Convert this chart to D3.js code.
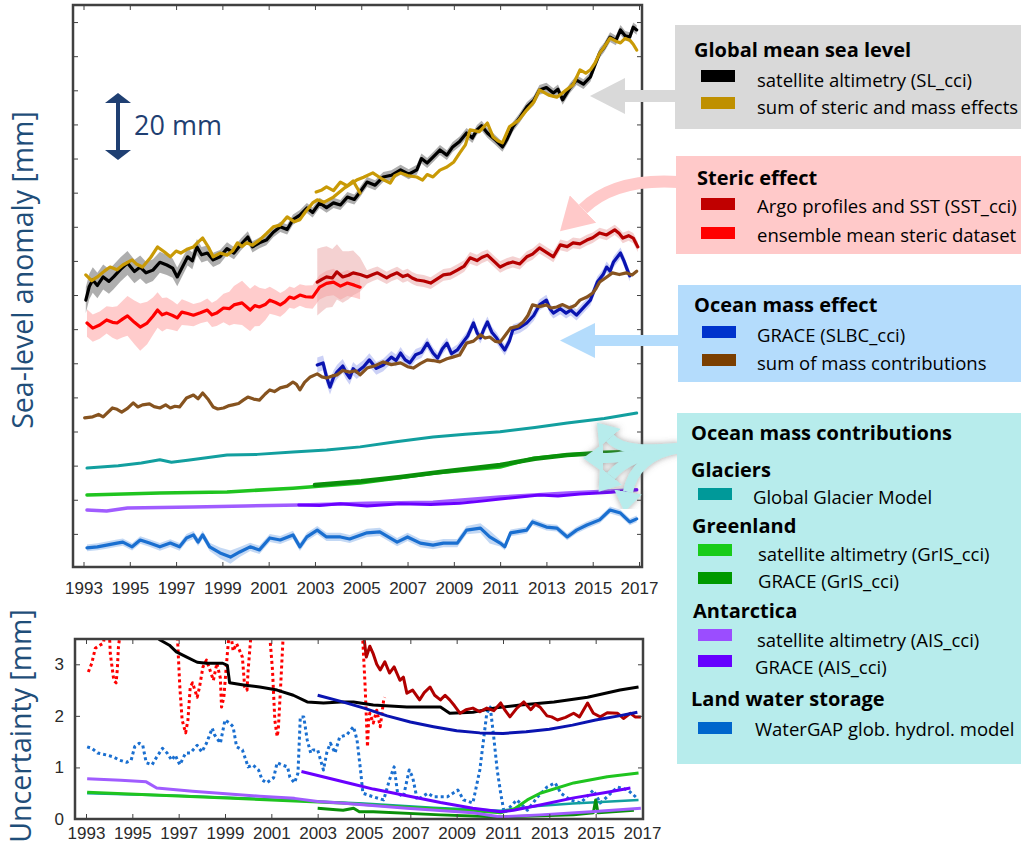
<!DOCTYPE html>
<html>
<head>
<meta charset="utf-8">
<script src="https://cdn.jsdelivr.net/npm/d3@7"></script>
<style>
  body { margin: 0; background: #fff; }
  svg text { font-family: "Open Sans", sans-serif; }
  .axis .tick text { font-family: "Liberation Sans", Arial, sans-serif; font-size: 17px; fill: #2a2a2a; }
  .axis .tick line { stroke: #404040; stroke-width: 1; }
  .axis .domain { display: none; }
</style>
</head>
<body>
<svg id="fig" width="1021" height="845"></svg>
<script>
(function() {
    'use strict';

    /******************************************************************
        data: [year, mm]  (series are offset for display, as in the figure)
     ******************************************************************/
    var yearTicks = d3.range(1993, 2018, 2);
    var uncTicks = [0, 1, 2, 3];

    var gmslAltimetry = [[1993.1,78.5],[1993.25,82.5],[1993.4,84.4],[1993.6,82.8],[1993.85,85.3],[1994.1,84.0],[1994.3,85.3],
        [1994.6,87.5],[1994.9,89.4],[1995.2,86.9],[1995.45,88.2],[1995.7,86.5],[1996.0,87.3],[1996.3,89.6],[1996.6,88.8],
        [1996.85,87.9],[1997.05,85.3],[1997.3,88.6],[1997.5,91.2],[1997.7,90.0],[1997.9,94.1],[1998.1,91.8],[1998.35,92.3],
        [1998.6,90.3],[1998.9,91.2],[1999.2,93.6],[1999.5,92.3],[1999.8,94.8],[2000.1,97.0],[2000.3,94.1],[2000.6,95.3],
        [2000.9,96.1],[2001.2,98.4],[2001.5,100.0],[2001.8,99.2],[2002.05,102.1],[2002.35,103.4],[2002.65,105.5],
        [2002.9,104.2],[2003.2,107.0],[2003.5,105.6],[2003.8,107.0],[2004.1,106.4],[2004.4,108.7],[2004.7,108.0],
        [2004.95,110.2],[2005.25,113.1],[2005.6,112.2],[2005.95,114.6],[2006.3,115.1],[2006.7,116.7],[2007.05,115.4],
        [2007.4,116.7],[2007.6,120.0],[2007.85,118.7],[2008.1,120.4],[2008.4,122.5],[2008.7,121.0],[2008.95,123.4],
        [2009.25,125.0],[2009.55,127.5],[2009.8,126.0],[2010.0,128.4],[2010.2,129.6],[2010.45,127.5],[2010.8,125.4],
        [2011.1,123.4],[2011.3,125.7],[2011.55,129.3],[2011.85,132.0],[2012.15,135.1],[2012.45,137.0],[2012.7,140.1],
        [2013.0,140.8],[2013.3,139.2],[2013.5,140.3],[2013.7,137.2],[2014.0,140.5],[2014.3,143.0],[2014.6,141.8],
        [2014.9,143.9],[2015.1,147.5],[2015.3,150.9],[2015.5,152.6],[2015.75,155.6],[2016.0,154.6],[2016.2,157.7],
        [2016.4,156.0],[2016.6,155.6],[2016.75,158.5],[2016.9,157.7]];
    var gmslAltimetryBand = [[1993,3.8],[1995,3.5],[1996.5,3.0],[1998,2.3],[1999.5,1.8],[2001,1.5],[2017,1.4]];

    var gmslSum = [[1993.1,85.9],[1993.35,84.2],[1993.6,85.3],[1993.9,87.0],[1994.15,88.2],[1994.45,87.4],[1994.7,88.8],
        [1995.1,90.3],[1995.3,89.0],[1995.55,88.2],[1995.9,91.0],[1996.2,94.1],[1996.5,92.6],[1996.75,91.2],[1997.0,92.9],
        [1997.2,92.3],[1997.5,93.5],[1997.75,94.1],[1997.95,95.5],[1998.15,96.7],[1998.4,94.0],[1998.6,91.2],[1998.9,92.3],
        [1999.2,91.7],[1999.45,93.0],[1999.65,95.3],[1999.85,94.2],[2000.05,95.3],[2000.3,94.6],[2000.6,96.1],[2000.9,98.0],
        [2001.2,100.0],[2001.5,100.5],[2001.8,102.9],[2002.1,101.5],[2002.35,102.1],[2002.6,104.5],[2002.9,107.0],
        [2003.1,107.9],[2003.4,107.2],[2003.8,108.7],[2004.3,111.5],[2004.8,113.7],[2005.1,114.5],[2005.5,115.8],
        [2005.9,114.0],[2006.25,112.8],[2006.45,115.0],[2006.7,115.8],[2007.0,115.0],[2007.4,114.6],[2007.65,113.7],
        [2007.85,115.3],[2008.1,114.6],[2008.4,116.6],[2008.7,117.5],[2009.0,119.0],[2009.25,121.6],[2009.5,124.0],
        [2009.7,128.4],[2010.1,127.9],[2010.45,130.4],[2010.7,126.3],[2010.9,125.2],[2011.1,124.6],[2011.4,129.3],
        [2011.8,131.2],[2012.15,134.2],[2012.45,136.5],[2012.7,140.1],[2013.1,138.6],[2013.45,138.0],[2013.65,139.0],
        [2013.85,140.1],[2014.15,141.6],[2014.45,146.0],[2014.7,145.0],[2014.9,146.0],[2015.1,148.0],[2015.3,150.9],
        [2015.5,152.7],[2015.75,155.3],[2016.0,154.4],[2016.2,153.9],[2016.4,155.2],[2016.6,154.7],[2016.75,153.5],
        [2016.9,151.8]];
    var gmslSumArgo = [[2003.05,110.2],[2003.3,110.8],[2003.5,111.7],[2003.8,110.6],[2004.1,113.1],[2004.4,112.0],
        [2004.65,113.4],[2004.95,109.9]];

    var stericEnsemble = [[1993.15,71.8],[1993.4,70.3],[1993.7,71.2],[1994.0,72.7],[1994.25,72.0],[1994.45,71.8],
        [1994.7,73.0],[1994.9,73.9],[1995.2,72.0],[1995.45,70.6],[1995.75,71.8],[1996.0,73.8],[1996.2,75.6],[1996.4,74.2],
        [1996.6,74.7],[1996.85,74.0],[1997.05,73.3],[1997.25,75.0],[1997.5,74.6],[1997.75,74.1],[1998.05,74.8],
        [1998.35,75.6],[1998.55,74.2],[1998.75,74.7],[1999.05,76.2],[1999.3,76.0],[1999.5,77.1],[1999.85,77.7],
        [2000.2,75.6],[2000.4,76.9],[2000.6,76.5],[2000.85,77.2],[2001.05,78.5],[2001.3,77.8],[2001.5,77.1],[2001.7,78.0],
        [2001.9,79.4],[2002.1,79.0],[2002.35,80.0],[2002.6,79.5],[2002.9,79.4],[2003.2,82.3],[2003.5,83.4],[2003.8,83.8],
        [2004.1,82.6],[2004.4,83.5],[2004.7,82.9],[2004.95,82.3]];
    var stericEnsembleBand = [[1993,4],[1994,4],[1995,6],[1995.5,7],[1996,5.5],[1997,4],[1998,3],[1999,4],
        [1999.8,6.5],[2000.5,6],[2001,4],[2002,3],[2003,3.5],[2004,4],[2005,3.5]];

    var stericArgo = [[2003.1,83.8],[2003.3,84.6],[2003.5,85.3],[2003.75,85.0],[2003.95,86.8],[2004.2,85.3],
        [2004.45,85.8],[2004.65,86.5],[2004.95,86.0],[2005.25,85.3],[2005.5,86.0],[2005.7,86.5],[2006.1,85.0],
        [2006.3,85.8],[2006.55,86.5],[2006.8,85.4],[2007.0,85.9],[2007.2,85.0],[2007.4,84.4],[2007.7,84.1],[2008.0,83.5],
        [2008.3,84.8],[2008.55,85.9],[2008.85,86.2],[2009.15,87.3],[2009.45,88.5],[2009.7,90.9],[2010.0,90.1],
        [2010.2,91.0],[2010.45,91.7],[2010.75,89.8],[2011.0,88.2],[2011.3,89.2],[2011.55,89.7],[2011.85,89.1],
        [2012.15,91.2],[2012.4,92.0],[2012.7,93.8],[2013.0,92.5],[2013.3,91.2],[2013.6,94.7],[2013.9,94.2],
        [2014.15,95.3],[2014.45,95.0],[2014.75,96.1],[2015.0,96.8],[2015.3,98.2],[2015.6,97.6],[2015.95,99.1],
        [2016.15,98.0],[2016.3,96.7],[2016.55,97.4],[2016.75,96.7],[2016.95,94.1]];
    var stericArgoBand = [[2003,10],[2004,8],[2004.9,6],[2005.1,2],[2006,1.8],[2017,1.5]];

    var massGrace = [[2003.1,59.5],[2003.35,60.1],[2003.5,56.0],[2003.65,53.0],[2003.8,55.8],[2003.95,57.4],
        [2004.2,59.2],[2004.35,57.2],[2004.5,55.7],[2004.65,58.4],[2004.8,57.4],[2005.1,59.0],[2005.35,61.0],
        [2005.65,58.5],[2005.95,59.5],[2006.3,61.8],[2006.5,60.8],[2006.7,63.0],[2006.9,61.0],[2007.1,60.1],
        [2007.35,62.5],[2007.6,63.2],[2007.85,65.9],[2008.1,63.0],[2008.3,61.5],[2008.5,64.2],[2008.7,65.9],
        [2008.9,62.8],[2009.15,63.9],[2009.4,66.2],[2009.6,68.0],[2009.85,71.8],[2010.0,69.0],[2010.15,67.4],
        [2010.3,70.0],[2010.45,72.1],[2010.65,69.0],[2010.85,67.4],[2011.0,65.8],[2011.2,63.9],[2011.4,66.5],
        [2011.55,69.8],[2011.85,70.5],[2012.15,71.8],[2012.45,74.0],[2012.7,77.1],[2013.0,78.5],[2013.15,76.0],
        [2013.3,74.7],[2013.6,76.0],[2013.85,74.7],[2014.05,75.6],[2014.3,74.1],[2014.6,76.3],[2014.9,78.5],
        [2015.2,83.8],[2015.45,86.0],[2015.6,88.2],[2015.75,87.0],[2015.9,89.7],[2016.05,91.0],[2016.2,92.3],
        [2016.35,90.0],[2016.5,87.3],[2016.6,85.6]];
    var massGraceBand = [[2003,2.2],[2008,1.6],[2017,1.6]];

    var massSum = [[1993.05,44.0],[1993.4,44.3],[1993.65,45.0],[1993.85,44.3],[1994.25,46.9],[1994.45,46.5],
        [1994.65,45.7],[1994.9,46.8],[1995.15,48.4],[1995.35,47.2],[1995.55,47.8],[1995.85,48.1],[1996.05,47.3],
        [1996.3,46.9],[1996.55,47.8],[1996.75,46.9],[1996.95,47.4],[1997.15,47.2],[1997.45,49.8],[1997.75,50.7],
        [1997.95,49.6],[1998.15,51.3],[1998.4,49.3],[1998.6,47.2],[1998.8,46.6],[1999.05,46.9],[1999.25,47.5],
        [1999.45,47.8],[1999.7,48.2],[1999.9,49.2],[2000.1,50.1],[2000.35,49.5],[2000.6,49.2],[2000.85,51.0],
        [2001.05,52.2],[2001.25,51.7],[2001.5,52.8],[2001.8,53.3],[2002.05,54.5],[2002.2,53.8],[2002.35,52.2],
        [2002.55,54.4],[2002.8,56.0],[2003.1,56.9],[2003.3,56.0],[2003.5,55.7],[2003.75,56.3],[2003.95,56.6],
        [2004.2,57.9],[2004.5,57.4],[2004.75,57.8],[2004.95,56.6],[2005.25,58.6],[2005.6,59.3],[2005.95,60.4],
        [2006.3,59.6],[2006.7,60.1],[2007.0,59.0],[2007.25,58.6],[2007.55,59.9],[2007.85,61.0],[2008.1,60.8],
        [2008.4,60.4],[2008.7,61.3],[2008.95,61.8],[2009.25,62.4],[2009.55,65.9],[2009.85,66.5],[2010.15,68.3],
        [2010.35,67.4],[2010.55,67.7],[2010.8,66.4],[2011.0,66.2],[2011.2,68.0],[2011.45,70.3],[2011.75,70.8],
        [2012.0,72.1],[2012.2,74.0],[2012.4,77.1],[2012.7,76.6],[2013.0,77.1],[2013.2,76.2],[2013.45,76.5],
        [2013.7,77.2],[2014.0,76.2],[2014.25,77.0],[2014.45,78.5],[2014.75,79.4],[2015.0,80.6],[2015.15,82.0],
        [2015.3,83.8],[2015.55,85.0],[2015.85,86.5],[2016.15,86.0],[2016.45,86.5],[2016.7,85.9],[2016.9,87.0]];

    var glaciers = [[1993.15,29.3],[1994.5,30.0],[1995.5,30.8],[1996.3,31.7],[1996.8,31.0],[1997.5,31.6],
        [1999.2,33.1],[2000.5,33.3],[2002.05,34.0],[2003.5,34.6],[2004.95,35.5],[2006.5,37.0],[2008.1,38.4],
        [2009.5,39.2],[2011.0,39.9],[2012.5,41.2],[2013.9,42.5],[2015.5,43.8],[2016.9,45.4]];

    var greenlandAlt = [[1993.15,21.4],[1996.3,22.0],[1999.2,22.3],[2002.05,23.4],[2004.95,24.9],[2006.5,26.3],
        [2008.1,27.8],[2011.0,29.6],[2012.45,32.2],[2014.0,33.2],[2015.3,33.7],[2016.9,34.0]];
    var greenlandGrace = [[2003.0,24.3],[2005.0,25.4],[2006.7,26.7],[2008.5,28.2],[2011.0,30.2],[2012.5,32.0],
        [2013.9,33.1],[2015.5,33.8],[2016.75,34.0]];

    var antarcticaAlt = [[1993.15,17.0],[1994.0,16.7],[1994.9,17.6],[1997.75,17.9],[2000.0,18.2],[2002.35,18.5],
        [2005.25,19.0],[2008.1,19.3],[2011.0,20.8],[2013.9,22.0],[2016.9,22.9]];
    var antarcticaGrace = [[2002.3,18.5],[2003.2,18.3],[2004.1,18.8],[2005.25,18.2],[2006.7,18.8],[2008.0,18.6],
        [2009.25,19.0],[2010.2,19.6],[2011.0,20.2],[2012.7,21.4],[2013.5,21.1],[2014.45,21.7],[2015.8,22.2],[2016.9,22.9]];

    var landWater = [[1993.15,5.9],[1993.6,6.2],[1994.0,6.7],[1994.45,7.3],[1994.7,7.6],[1995.1,6.2],[1995.45,8.2],
        [1995.85,7.3],[1996.3,6.2],[1996.75,7.3],[1997.15,6.2],[1997.45,8.8],[1997.75,9.7],[1997.95,7.6],[1998.15,9.7],
        [1998.45,6.2],[1998.9,4.4],[1999.35,3.2],[1999.75,4.7],[2000.2,6.2],[2000.6,5.3],[2001.05,8.8],[2001.5,8.2],
        [2002.05,9.7],[2002.35,6.2],[2002.65,9.1],[2003.1,11.1],[2003.5,9.1],[2004.1,9.1],[2004.5,8.5],[2005.25,10.3],
        [2005.8,10.6],[2006.55,7.6],[2007.0,9.1],[2007.55,7.3],[2008.1,6.7],[2008.55,7.3],[2009.15,7.3],[2009.55,11.1],
        [2010.15,11.7],[2010.55,9.1],[2011.0,7.3],[2011.2,6.2],[2011.45,10.3],[2012.15,11.1],[2012.4,13.5],[2013.0,12.0],
        [2013.45,11.7],[2013.9,9.1],[2014.3,11.1],[2014.75,12.6],[2015.3,14.1],[2015.75,17.0],[2016.2,16.1],
        [2016.6,13.5],[2016.9,14.4]];
    var landWaterBand = [[1993,1],[1998.5,1.2],[1999.3,2],[2000,1.2],[2010,1.2],[2010.5,2],[2011,1],[2017,1]];

    // uncertainties [year, mm]
    var uncGmsl = [[1993.1,4.3],[1994.5,4.0],[1995.5,3.75],[1996.2,3.47],[1996.6,3.37],[1996.9,3.24],[1997.35,3.14],
        [1997.8,3.04],[1998.2,3.02],[1998.9,3.02],[1999.1,2.98],[1999.2,2.64],[1999.8,2.6],[2000.5,2.56],[2001.25,2.5],
        [2001.95,2.4],[2002.55,2.27],[2003.25,2.25],[2004.0,2.27],[2004.55,2.27],[2005.4,2.21],[2006.85,2.17],
        [2008.3,2.17],[2008.7,2.05],[2009.7,2.07],[2010.6,2.15],[2011.75,2.21],[2013.2,2.27],[2014.65,2.36],
        [2016.05,2.5],[2016.85,2.56]];
    var uncArgo = [[2004.95,3.7],[2005.1,3.14],[2005.25,3.35],[2005.4,3.2],[2005.55,3.0],[2005.7,2.89],[2005.9,3.05],
        [2006.1,2.83],[2006.3,2.95],[2006.55,2.69],[2006.7,2.75],[2006.85,2.44],[2007.1,2.5],[2007.4,2.31],[2007.6,2.45],
        [2007.85,2.56],[2008.05,2.4],[2008.3,2.31],[2008.5,2.4],[2008.7,2.31],[2008.9,2.2],[2009.15,2.05],[2009.4,2.12],
        [2009.7,2.15],[2010.0,2.08],[2010.3,2.15],[2010.6,2.1],[2010.9,2.25],[2011.1,2.1],[2011.3,1.98],[2011.6,2.15],
        [2011.9,2.27],[2012.2,2.12],[2012.4,2.22],[2012.6,2.17],[2012.9,2.0],[2013.1,1.98],[2013.35,1.92],[2013.7,1.97],
        [2014.05,2.05],[2014.3,1.98],[2014.65,2.25],[2014.9,2.05],[2015.2,1.98],[2015.5,2.06],[2015.95,2.05],
        [2016.2,1.95],[2016.5,2.05],[2016.7,1.98],[2016.95,1.98]];
    var uncGrace = [[2003,2.4],[2004,2.28],[2005,2.15],[2006,2.0],[2007,1.88],[2008,1.79],[2009,1.71],[2010,1.67],
        [2011,1.66],[2012,1.69],[2013,1.74],[2014,1.82],[2015,1.92],[2016,2.0],[2016.8,2.07]];
    var uncSteric = [[1993.1,2.85],[1993.25,3.02],[1993.4,3.31],[1993.6,3.37],[1993.75,3.41],[1993.9,3.8],[1994.0,3.7],
        [1994.05,3.2],[1994.2,2.69],[1994.3,2.64],[1994.35,2.89],[1994.4,3.33],[1994.55,3.9],[1995.5,4.2],[1996.9,3.9],
        [1996.95,3.5],[1997.05,2.56],[1997.15,1.92],[1997.3,1.67],[1997.4,1.92],[1997.5,2.56],[1997.6,2.64],[1997.8,2.36],
        [1997.9,2.56],[1998.05,2.95],[1998.2,3.08],[1998.35,2.89],[1998.5,2.69],[1998.65,3.02],[1998.8,2.73],[1998.85,2.17],
        [1998.95,2.36],[1999.1,3.2],[1999.15,3.45],[1999.25,3.6],[1999.35,3.26],[1999.5,3.4],[1999.6,3.3],[1999.75,3.14],
        [1999.85,2.56],[1999.95,2.5],[2000.0,2.89],[2000.1,3.45],[2000.2,3.9],[2000.9,3.9],[2000.95,3.45],[2001.05,2.89],
        [2001.15,1.92],[2001.25,1.6],[2001.3,1.73],[2001.4,2.56],[2001.5,3.45],[2001.6,3.9],[2004.9,3.9],[2004.95,3.45],
        [2005.05,2.56],[2005.15,1.4],[2005.2,1.92],[2005.25,2.05],[2005.4,1.86],[2005.55,2.11],[2005.7,1.79],
        [2005.85,2.31],[2005.9,2.36]];
    var uncLandWater = [[1993.05,1.4],[1993.25,1.37],[1993.5,1.28],[1993.9,1.24],[1994.2,1.2],[1994.45,1.14],
        [1994.75,1.1],[1994.95,1.14],[1995.1,1.4],[1995.3,1.47],[1995.45,1.43],[1995.6,1.09],[1995.85,1.05],[1996.05,1.2],
        [1996.3,1.37],[1996.5,1.28],[1996.7,1.14],[1996.85,1.24],[1997.05,1.05],[1997.3,1.28],[1997.5,1.28],[1997.8,1.43],
        [1998.0,1.3],[1998.2,1.47],[1998.45,1.76],[1998.55,1.63],[1998.8,1.47],[1999.0,1.92],[1999.2,1.86],[1999.35,1.79],
        [1999.5,1.4],[1999.75,1.34],[2000.0,1.01],[2000.2,1.05],[2000.45,0.95],[2000.6,0.76],[2000.8,0.7],[2001.1,0.8],
        [2001.25,1.09],[2001.45,1.05],[2001.7,1.01],[2001.8,0.81],[2002.0,0.7],[2002.15,0.89],[2002.25,1.98],
        [2002.4,1.98],[2002.55,1.53],[2002.7,1.28],[2002.8,1.34],[2003.0,1.34],[2003.25,0.95],[2003.4,1.3],
        [2003.55,1.47],[2003.75,1.28],[2003.95,1.59],[2004.25,1.63],[2004.55,1.79],[2004.7,1.53],[2004.85,0.95],
        [2004.95,0.5],[2005.4,0.43],[2005.85,0.37],[2006.1,0.76],[2006.3,1.01],[2006.45,0.5],[2006.7,0.43],
        [2006.95,0.95],[2007.1,0.81],[2007.3,0.37],[2007.75,0.5],[2008.0,0.43],[2008.6,0.43],[2009.05,0.56],
        [2009.3,0.37],[2009.7,0.31],[2010.0,0.95],[2010.3,2.05],[2010.45,2.17],[2010.6,1.59],[2010.75,0.95],
        [2010.9,0.5],[2011.05,0.12],[2011.3,0.23],[2011.6,0.37],[2012.05,0.17],[2012.5,0.43],[2012.9,0.62],
        [2013.25,0.7],[2013.5,0.5],[2013.9,0.37],[2014.35,0.31],[2014.9,0.56],[2015.2,0.31],[2015.95,0.62],
        [2016.4,0.56],[2016.8,0.4]];
    var uncAntarcticaAlt = [[1993.05,0.78],[1994.5,0.75],[1995.6,0.72],[1996.05,0.6],[1997.6,0.54],[2000.5,0.44],
        [2002.0,0.4],[2003.0,0.34],[2004.0,0.31],[2006.85,0.21],[2009.7,0.12],[2010.9,0.04],[2012.6,0.08],
        [2014.8,0.14],[2016.95,0.21]];
    var uncAntarcticaGrace = [[2002.3,0.92],[2003.4,0.8],[2004.5,0.68],[2005.4,0.58],[2006.85,0.45],[2008.3,0.32],
        [2009.7,0.21],[2010.9,0.14],[2011.45,0.17],[2012.6,0.27],[2014.05,0.41],[2015.5,0.52],[2016.5,0.6]];
    var uncGreenlandAlt = [[1993.05,0.52],[1996.2,0.46],[2000.5,0.38],[2004.0,0.31],[2006.85,0.23],[2009.7,0.16],
        [2010.9,0.12],[2011.5,0.2],[2012.05,0.37],[2012.6,0.5],[2014.05,0.7],[2015.5,0.82],[2016.85,0.89]];
    var uncGreenlandGrace = [[2003.0,0.21],[2003.8,0.18],[2004.1,0.17],[2004.55,0.21],[2004.8,0.14],[2005.4,0.14],
        [2008.3,0.08],[2010.9,0.04],[2014.05,0.08],[2014.9,0.12],[2015.0,0.37],[2015.1,0.12],[2016.65,0.17]];
    var uncGlaciers = [[1993.05,0.5],[1997,0.45],[2001,0.38],[2005,0.3],[2008,0.22],[2010.9,0.16],[2012.5,0.25],
        [2014,0.3],[2016.85,0.37]];

    // legend texts
    var legendGmsl = ['Global mean sea level', 'satellite altimetry (SL_cci)', 'sum of steric and mass effects'];
    var legendSteric = ['Steric effect', 'Argo profiles and SST (SST_cci)', 'ensemble mean steric dataset'];
    var legendMass = ['Ocean mass effect', 'GRACE (SLBC_cci)', 'sum of mass contributions'];
    var legendContrib = ['Ocean mass contributions', 'Glaciers', 'Global Glacier Model', 'Greenland',
        'satellite altimetry (GrIS_cci)', 'GRACE (GrIS_cci)', 'Antarctica', 'satellite altimetry (AIS_cci)',
        'GRACE (AIS_cci)', 'Land water storage', 'WaterGAP glob. hydrol. model'];

    /******************************************************************
        setup
     ******************************************************************/
    var svg = d3.select('#fig');
    var defs = svg.append('defs');

    var xA = d3.scaleLinear().domain([1993, 2017]).range([83.5, 639]);
    var yA = d3.scaleLinear().domain([0, 165]).range([568, 5]);
    var xB = d3.scaleLinear().domain([1993, 2017]).range([86, 642]);
    var yB = d3.scaleLinear().domain([0, 3.5]).range([819, 638.5]);

    defs.append('clipPath').attr('id', 'clipA').append('rect')
        .attr('x', 73).attr('y', 5).attr('width', 569).attr('height', 562);
    defs.append('clipPath').attr('id', 'clipB').append('rect')
        .attr('x', 75).attr('y', 639).attr('width', 568).attr('height', 180);

    var shadow = defs.append('filter').attr('id', 'shadow')
        .attr('x', '-30%').attr('y', '-30%').attr('width', '160%').attr('height', '160%');
    shadow.append('feDropShadow').attr('dx', 0).attr('dy', 0).attr('stdDeviation', 3)
        .attr('flood-color', '#666').attr('flood-opacity', 0.6);

    var gA = svg.append('g').attr('clip-path', 'url(#clipA)');
    var gB = svg.append('g').attr('clip-path', 'url(#clipB)');

    var lineA = d3.line().x(function(d){ return xA(d[0]); }).y(function(d){ return yA(d[1]); });
    var lineB = d3.line().x(function(d){ return xB(d[0]); }).y(function(d){ return yB(d[1]); });

    function bandA(data, widths, fill, op) {
        var w = d3.scaleLinear().domain(widths.map(function(d){ return d[0]; }))
            .range(widths.map(function(d){ return d[1]; })).clamp(true);
        gA.append('path').datum(data)
            .attr('d', d3.area()
                .x(function(d){ return xA(d[0]); })
                .y0(function(d){ return yA(d[1] - w(d[0])); })
                .y1(function(d){ return yA(d[1] + w(d[0])); }))
            .attr('fill', fill).attr('opacity', op);
    }

    function drawA(data, color, width) {
        gA.append('path').datum(data).attr('d', lineA)
            .attr('fill', 'none').attr('stroke', color).attr('stroke-width', width)
            .attr('stroke-linejoin', 'round').attr('stroke-linecap', 'round');
    }

    function drawB(data, color, width, dash) {
        gB.append('path').datum(data).attr('d', lineB)
            .attr('fill', 'none').attr('stroke', color).attr('stroke-width', width)
            .attr('stroke-dasharray', dash || null)
            .attr('stroke-linejoin', 'round');
    }

    /******************************************************************
        top panel
     ******************************************************************/
    bandA(gmslAltimetry, gmslAltimetryBand, '#8c8c8c', 0.7);
    drawA(gmslAltimetry, '#000000', 3.2);
    drawA(gmslSum, '#c99a06', 3.2);
    drawA(gmslSumArgo, '#c99a06', 3.2);

    bandA(stericEnsemble, stericEnsembleBand, '#ffb0b0', 0.65);
    bandA(stericArgo, stericArgoBand, '#e9a3a3', 0.5);
    drawA(stericEnsemble, '#ff0000', 3.2);
    drawA(stericArgo, '#b50000', 3.2);

    bandA(massGrace, massGraceBand, '#aab2f0', 0.6);
    drawA(massGrace, '#0a14b0', 3.2);
    drawA(massSum, '#86531f', 3.2);

    drawA(glaciers, '#129f9f', 3);
    drawA(greenlandAlt, '#1fc41f', 3.5);
    drawA(greenlandGrace, '#0a900a', 4.5);
    drawA(antarcticaAlt, '#a05cff', 3.5);
    drawA(antarcticaGrace, '#6a00ff', 3);

    bandA(landWater, landWaterBand, '#a9c8f0', 0.7);
    drawA(landWater, '#1a6fd0', 3.2);

    svg.append('rect').attr('x', 73).attr('y', 5).attr('width', 569).attr('height', 562)
        .attr('fill', 'none').attr('stroke', '#404040').attr('stroke-width', 2.5);

    svg.append('g').attr('class', 'axis').attr('transform', 'translate(0,567)')
        .call(d3.axisBottom(xA).tickValues(yearTicks).tickSize(-5).tickPadding(15).tickFormat(d3.format('d')));
    svg.append('g').attr('class', 'axis').attr('transform', 'translate(0,5)')
        .call(d3.axisTop(xA).tickValues(yearTicks).tickSize(-5).tickFormat(''));
    svg.append('g').attr('class', 'axis').attr('transform', 'translate(73,0)')
        .call(d3.axisLeft(yA).tickValues(d3.range(10, 161, 10)).tickSize(-5).tickFormat(''));
    svg.append('g').attr('class', 'axis').attr('transform', 'translate(642,0)')
        .call(d3.axisRight(yA).tickValues(d3.range(10, 161, 10)).tickSize(-5).tickFormat(''));

    // 20 mm scale arrow
    var navy = '#1f3f72';
    svg.append('line').attr('x1', 118).attr('x2', 118).attr('y1', 101).attr('y2', 152)
        .attr('stroke', navy).attr('stroke-width', 4);
    svg.append('path').attr('d', 'M118,93 L131,103 L105,103 Z').attr('fill', navy);
    svg.append('path').attr('d', 'M118,160 L131,150 L105,150 Z').attr('fill', navy);
    svg.append('text').attr('x', 134).attr('y', 135).attr('fill', navy)
        .style('font-size', '27px').text('20 mm');

    svg.append('text').attr('transform', 'translate(33,270) rotate(-90)')
        .attr('text-anchor', 'middle').attr('fill', '#1f4e79')
        .style('font-size', '28.5px').text('Sea-level anomaly [mm]');

    /******************************************************************
        bottom panel
     ******************************************************************/
    drawB(uncSteric, '#ff0000', 3, '3,3');
    drawB(uncLandWater, '#1a6fd0', 3, '3,3');
    drawB(uncGmsl, '#000000', 3);
    drawB(uncArgo, '#b00000', 3);
    drawB(uncGrace, '#0a14b0', 3);
    drawB(uncGlaciers, '#129f9f', 2.5);
    drawB(uncGreenlandAlt, '#1fc41f', 3);
    drawB(uncGreenlandGrace, '#0a900a', 3);
    drawB(uncAntarcticaAlt, '#a05cff', 3);
    drawB(uncAntarcticaGrace, '#6a00ff', 3);

    svg.append('rect').attr('x', 75).attr('y', 639).attr('width', 568).attr('height', 180)
        .attr('fill', 'none').attr('stroke', '#404040').attr('stroke-width', 2.5);

    svg.append('g').attr('class', 'axis').attr('transform', 'translate(0,819)')
        .call(d3.axisBottom(xB).tickValues(yearTicks).tickSize(-5).tickPadding(8).tickFormat(d3.format('d')));
    svg.append('g').attr('class', 'axis').attr('transform', 'translate(0,639)')
        .call(d3.axisTop(xB).tickValues(yearTicks).tickSize(-5).tickFormat(''));
    svg.append('g').attr('class', 'axis').attr('transform', 'translate(75,0)')
        .call(d3.axisLeft(yB).tickValues(uncTicks).tickSize(-5).tickPadding(11).tickFormat(d3.format('d')));
    svg.append('g').attr('class', 'axis').attr('transform', 'translate(643,0)')
        .call(d3.axisRight(yB).tickValues(uncTicks).tickSize(-5).tickFormat(''));

    svg.append('text').attr('transform', 'translate(31,726) rotate(-90)')
        .attr('text-anchor', 'middle').attr('fill', '#1f4e79')
        .style('font-size', '28.5px').text('Uncertainty [mm]');

    /******************************************************************
        pointer arrows
     ******************************************************************/
    function head(id, color, len, wid) {
        defs.append('marker').attr('id', id)
            .attr('markerUnits', 'userSpaceOnUse')
            .attr('viewBox', '0 0 ' + len + ' ' + wid)
            .attr('markerWidth', len).attr('markerHeight', wid)
            .attr('refX', 0).attr('refY', wid / 2).attr('orient', 'auto')
            .append('path').attr('d', 'M0,0 L' + len + ',' + (wid / 2) + ' L0,' + wid + ' Z')
                .attr('fill', color);
    }
    head('hGray', '#d9d9d9', 35, 36);
    head('hPink', '#ffc9c9', 32, 38);
    head('hBlue', '#b4dcfc', 35, 35);
    head('hCyan', '#b7ecec', 20, 28);

    svg.append('path').attr('d', 'M676,96 L625,96').attr('fill', 'none')
        .attr('stroke', '#d9d9d9').attr('stroke-width', 12).attr('marker-end', 'url(#hGray)');
    svg.append('path').attr('d', 'M678,182 Q615,178 583,209').attr('fill', 'none')
        .attr('stroke', '#ffc9c9').attr('stroke-width', 12).attr('marker-end', 'url(#hPink)');
    svg.append('path').attr('d', 'M679,340.5 L595,340.5').attr('fill', 'none')
        .attr('stroke', '#b4dcfc').attr('stroke-width', 11).attr('marker-end', 'url(#hBlue)');

    var cyan = svg.append('g').attr('filter', 'url(#shadow)');
    ['M680,448 C650,450 622,452 610,438',
     'M680,448 C650,452 625,458 603,458',
     'M680,448 C645,452 622,462 611,476',
     'M680,448 C650,452 632,470 628,492'].forEach(function(p) {
        cyan.append('path').attr('d', p).attr('fill', 'none')
            .attr('stroke', '#b7ecec').attr('stroke-width', 10).attr('marker-end', 'url(#hCyan)');
    });

    /******************************************************************
        legend boxes
     ******************************************************************/
    function box(x, y, w, h, fill) {
        svg.append('rect').attr('x', x).attr('y', y).attr('width', w).attr('height', h).attr('fill', fill);
    }
    function title(txt, x, y) {
        svg.append('text').attr('x', x).attr('y', y).style('font-size', '20px')
            .style('font-weight', 'bold').attr('fill', '#000').text(txt);
    }
    function item(txt, color, sx, sy, tx, ty) {
        svg.append('rect').attr('x', sx).attr('y', sy).attr('width', 34).attr('height', 12).attr('fill', color);
        svg.append('text').attr('x', tx).attr('y', ty).style('font-size', '18.5px')
            .attr('fill', '#000').text(txt);
    }

    box(675, 25, 346, 104, '#d9d9d9');
    title(legendGmsl[0], 694, 57);
    item(legendGmsl[1], '#000000', 701, 70, 757, 87);
    item(legendGmsl[2], '#bf9000', 701, 97, 757, 114);

    box(676, 156, 345, 98, '#ffc9c9');
    title(legendSteric[0], 697, 185);
    item(legendSteric[1], '#c00000', 701, 198, 757, 213);
    item(legendSteric[2], '#ff0000', 701, 227, 757, 242);

    box(678, 285, 343, 97, '#b4dcfc');
    title(legendMass[0], 694, 312);
    item(legendMass[1], '#0033cc', 702, 326, 757, 342);
    item(legendMass[2], '#7b3f00', 702, 354, 757, 370);

    box(677, 413, 344, 351, '#b7ecec');
    title(legendContrib[0], 691, 440);
    title(legendContrib[1], 691, 477);
    item(legendContrib[2], '#009999', 698, 488, 753, 504);
    title(legendContrib[3], 692, 533);
    item(legendContrib[4], '#19cc19', 698, 544, 758, 561);
    item(legendContrib[5], '#009900', 698, 572, 758, 588);
    title(legendContrib[6], 693, 618);
    item(legendContrib[7], '#9b4dff', 698, 629, 757, 647);
    item(legendContrib[8], '#6600ff', 698, 655, 755, 674);
    title(legendContrib[9], 691, 706);
    item(legendContrib[10], '#0066cc', 698, 722, 755, 736);
})();
</script>
</body>
</html>
